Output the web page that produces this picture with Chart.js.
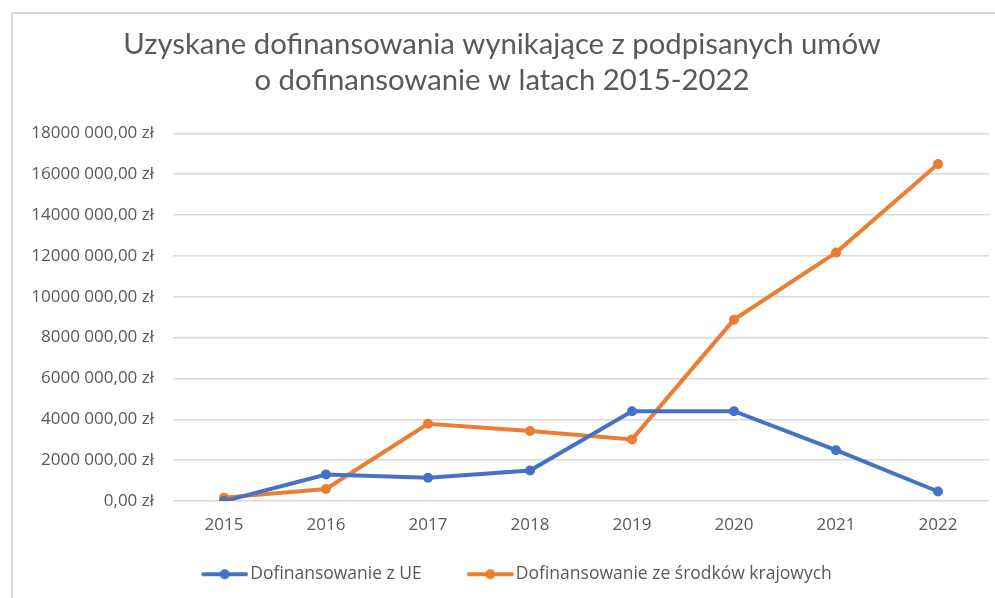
<!DOCTYPE html>
<html>
<head>
<meta charset="utf-8">
<script src="https://cdn.jsdelivr.net/npm/chart.js@4"></script>
<style>
  html, body { margin: 0; padding: 0; background: #fff; }
  #wrap { position: relative; width: 995px; height: 598px; }
  #frame { position: absolute; left: 11px; top: 12px; right: -5px; bottom: -5px; border-left: 2px solid #d9d9d9; border-top: 2px solid #d9d9d9; }
  canvas { position: absolute; left: 0; top: 0; }
</style>
</head>
<body>
<div id="wrap">
  <div id="frame"></div>
  <canvas id="c" width="995" height="598"></canvas>
</div>
<script>
const titleLines = ["Uzyskane dofinansowania wynikające z podpisanych umów", "o dofinansowanie w latach 2015-2022"];
const years = ["2015", "2016", "2017", "2018", "2019", "2020", "2021", "2022"];
const seriesNames = ["Dofinansowanie z UE", "Dofinansowanie ze środków krajowych"];
const euValues = [0, 1300000, 1140000, 1500000, 4400000, 4400000, 2490000, 470000];
const nationalValues = [170000, 590000, 3780000, 3430000, 3020000, 8880000, 12160000, 16490000];
const yTickLabels = {
  0: "0,00 zł", 2000000: "2000 000,00 zł", 4000000: "4000 000,00 zł", 6000000: "6000 000,00 zł",
  8000000: "8000 000,00 zł", 10000000: "10000 000,00 zł", 12000000: "12000 000,00 zł",
  14000000: "14000 000,00 zł", 16000000: "16000 000,00 zł", 18000000: "18000 000,00 zł"
};
const colors = ["#4472C4", "#ED7D31"];

// legend marker geometry
const LEG_FONT = 17.5, LEG_GAP = 16, LEG_BLANK = 29, ICON_W = 47, ICON_TEXT_GAP = 2;
const BOX_W = LEG_BLANK + ICON_W + ICON_TEXT_GAP - LEG_FONT / 2; // box width so text follows icon
const rightRel = LEG_BLANK + ICON_W - BOX_W / 2;
const IMG_W = Math.ceil(rightRel * 2);

function legendIcon(color) {
  const c = document.createElement('canvas');
  c.width = IMG_W; c.height = 14;
  const g = c.getContext('2d');
  const x1 = IMG_W / 2 + rightRel, x0 = x1 - ICON_W;
  g.strokeStyle = color; g.lineWidth = 4; g.lineCap = 'round';
  g.beginPath(); g.moveTo(x0 + 2, 7); g.lineTo(x1 - 2, 7); g.stroke();
  g.fillStyle = color; g.beginPath(); g.arc((x0 + x1) / 2, 7, 5, 0, Math.PI * 2); g.fill();
  return c;
}
const icons = colors.map(legendIcon);

new Chart(document.getElementById('c'), {
  type: 'line',
  data: {
    labels: years,
    datasets: [
      { label: seriesNames[0], data: euValues, borderColor: colors[0], backgroundColor: colors[0],
        borderWidth: 4, pointRadius: 5, pointBackgroundColor: colors[0], pointBorderWidth: 0, tension: 0 },
      { label: seriesNames[1], data: nationalValues, borderColor: colors[1], backgroundColor: colors[1],
        borderWidth: 4, pointRadius: 5, pointBackgroundColor: colors[1], pointBorderWidth: 0, tension: 0 }
    ]
  },
  options: {
    responsive: false,
    animation: false,
    layout: { padding: { top: 26, right: 6, bottom: 5, left: 15 } },
    plugins: {
      title: {
        display: true, text: titleLines, color: '#595959',
        font: { family: 'Lato', size: 29.3, weight: 'normal', lineHeight: 1.25 },
        padding: { top: 0, bottom: 34 }
      },
      legend: {
        position: 'bottom',
        labels: {
          color: '#595959', font: { family: 'Open Sans', size: LEG_FONT },
          usePointStyle: true, pointStyleWidth: BOX_W, boxHeight: 14, padding: LEG_GAP,
          generateLabels: (chart) => chart.data.datasets.map((d, i) => ({
            text: d.label, pointStyle: icons[i], fillStyle: colors[i], strokeStyle: colors[i],
            lineWidth: 0, datasetIndex: i, fontColor: '#595959'
          }))
        }
      },
      tooltip: { enabled: false }
    },
    scales: {
      x: {
        offset: true,
        grid: { display: false, drawTicks: false },
        border: { display: false },
        ticks: { color: '#595959', font: { family: 'Open Sans', size: 17 }, padding: 14 }
      },
      y: {
        min: 0, max: 18000000,
        afterFit: (s) => { s.width = 158; },
        grid: { color: '#d9d9d9', lineWidth: 1.5, drawTicks: false },
        border: { display: false },
        ticks: {
          stepSize: 2000000, color: '#595959', font: { family: 'Open Sans', size: 17 }, padding: 19,
          callback: (v) => yTickLabels[v] ?? ''
        }
      }
    }
  }
});
</script>
</body>
</html>
